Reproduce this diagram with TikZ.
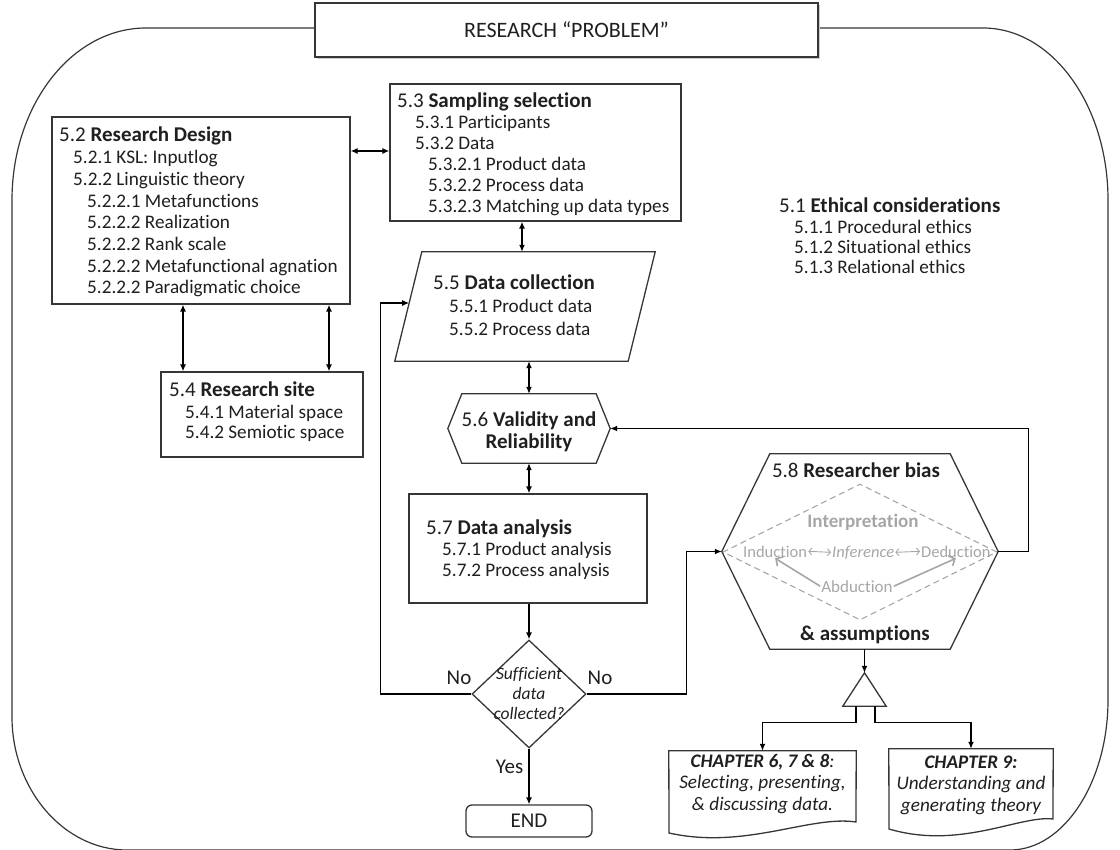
\documentclass[tikz,border=0pt]{standalone}
\usepackage{fontspec}
\setmainfont{Carlito}[Ligatures=NoCommon]
\usetikzlibrary{arrows.meta,shapes.geometric,calc}

\definecolor{ink}{HTML}{1F1F1F}
\definecolor{edge}{HTML}{363636}
\definecolor{soft}{HTML}{A6A6A6}

% numbered heading followed by indented sub-items, first baseline = box baseline
\newcommand\secblock[4]{\vtop{\lineskiplimit=-\maxdimen\lineskip=0pt
  \hbox{\fontsize{21}{21}\selectfont #1 \textbf{#2}}%
  \fontsize{19.2}{#3}\selectfont #4}}
% centred lines, first baseline = box baseline
\newcommand\ctrblock[2]{\vtop{\baselineskip=#1\lineskiplimit=-\maxdimen\lineskip=0pt
  \halign{\hfil##\hfil\cr#2\crcr}}}

\tikzset{
  box/.style={draw=edge, line width=1.3pt, rectangle, inner sep=0pt, fill=white, text=ink},
  bbox/.style={rectangle, inner sep=0pt},
  outline/.style={draw=edge, line width=1.3pt, line join=miter},
  frame/.style={draw=edge, line width=1.2pt},
  txt/.style={inner sep=0pt, text=ink},
  arr/.style={draw=black, line width=1.3pt, -{Latex[length=7pt,width=6pt]}},
  darr/.style={draw=black, line width=1.3pt, {Latex[length=7pt,width=6pt]}-{Latex[length=7pt,width=6pt]}},
  softarr/.style={draw=soft, line width=1.6pt, -{Straight Barb[length=5pt,width=11pt]}},
  softdbl/.style={draw=soft, line width=0.9pt, {Straight Barb[length=3pt,width=7pt]}-{Straight Barb[length=3pt,width=7pt]}},
  big/.style={font=\fontsize{21}{24}\selectfont},
}

\begin{document}
\begin{tikzpicture}[x=1pt,y=-1pt]
\useasboundingbox (0,0) rectangle (1120,850);

% rounded outer frame around the whole study
\draw[frame] (315,28) -- (146,28) .. controls (72,28) and (12,105) .. (12,200)
  -- (12,717) .. controls (12,789) and (63.5,850) .. (127,850)
  -- (1010,850) .. controls (1064,850) and (1108,781.7) .. (1108,700)
  -- (1108,200) .. controls (1108,105) and (1052,28) .. (983,28) -- (818,28);

% title
\fill[gray!40] (317,5) rectangle (820,59);
\node[box, minimum width=503pt, minimum height=54pt, font=\fontsize{22}{26}\selectfont] (title) at (566.5,30) {RESEARCH “PROBLEM”};

% 5.2 research design
\node[box, minimum width=298pt, minimum height=187pt] (design) at (201,210.5) {};
\node[txt, anchor=base west] (design-t) at (59,142) {\secblock{5.2}{Research Design}{21.67pt}{%
  \hbox{\hspace*{14pt}5.2.1 KSL: Inputlog}
  \hbox{\hspace*{14pt}5.2.2 Linguistic theory}
  \hbox{\hspace*{28pt}5.2.2.1 Metafunctions}
  \hbox{\hspace*{28pt}5.2.2.2 Realization}
  \hbox{\hspace*{28pt}5.2.2.2 Rank scale}
  \hbox{\hspace*{28pt}5.2.2.2 Metafunctional agnation}
  \hbox{\hspace*{28pt}5.2.2.2 Paradigmatic choice}}};

% 5.3 sampling selection
\node[box, minimum width=291pt, minimum height=137pt] (samp) at (535.5,152.5) {};
\node[txt, anchor=base west] (samp-t) at (397,108) {\secblock{5.3}{Sampling selection}{21pt}{%
  \hbox{\hspace*{18pt}5.3.1 Participants}
  \hbox{\hspace*{18pt}5.3.2 Data}
  \hbox{\hspace*{31pt}5.3.2.1 Product data}
  \hbox{\hspace*{31pt}5.3.2.2 Process data}
  \hbox{\hspace*{31pt}5.3.2.3 Matching up data types}}};

% 5.4 research site
\node[box, minimum width=202pt, minimum height=85pt] (site) at (262,414.5) {};
\node[txt, anchor=base west] (site-t) at (169,397) {\secblock{5.4}{Research site}{21pt}{%
  \hbox{\hspace*{16pt}5.4.1 Material space}
  \hbox{\hspace*{16pt}5.4.2 Semiotic space}}};

% 5.1 ethical considerations
\node[txt, anchor=base west] (eth-t) at (779,213) {\secblock{5.1}{Ethical considerations}{20.3pt}{%
  \hbox{\hspace*{15pt}5.1.1 Procedural ethics}
  \hbox{\hspace*{15pt}5.1.2 Situational ethics}
  \hbox{\hspace*{15pt}5.1.3 Relational ethics}}};

% 5.5 data collection (parallelogram)
\node[bbox, minimum width=260pt, minimum height=109pt] (dc) at (525,306.5) {};
\draw[outline] (dc.south west) -- ([xshift=27pt]dc.north west) -- (dc.north east) -- ([xshift=-27pt]dc.south east) -- cycle;
\coordinate (dcL) at ($(dc.south west)!0.532!([xshift=27pt]dc.north west)$);
\node[txt, anchor=base west] (dc-t) at (433,290) {\secblock{5.5}{Data collection}{23pt}{%
  \hbox{\hspace*{16pt}5.5.1 Product data}
  \hbox{\hspace*{16pt}5.5.2 Process data}}};

% 5.6 validity and reliability (hexagon)
\node[bbox, minimum width=162pt, minimum height=69pt] (vr) at (529,428.5) {};
\draw[outline] (vr.west) -- ([xshift=14pt]vr.north west) -- ([xshift=-14pt]vr.north east) -- (vr.east)
  -- ([xshift=-14pt]vr.south east) -- ([xshift=14pt]vr.south west) -- cycle;
\node[txt, anchor=base, font=\fontsize{21}{22}\selectfont] (vr-t) at (529,427) {\ctrblock{22pt}{5.6 \textbf{Validity and}\cr\textbf{Reliability}}};

% 5.7 data analysis
\node[box, minimum width=238pt, minimum height=109pt] (da) at (528,548.5) {};
\node[txt, anchor=base west] (da-t) at (426,534) {\secblock{5.7}{Data analysis}{21pt}{%
  \hbox{\hspace*{16pt}5.7.1 Product analysis}
  \hbox{\hspace*{16pt}5.7.2 Process analysis}}};

% decision
\node[draw=edge, line width=1.3pt, diamond, minimum width=114pt, minimum height=108pt, inner sep=0pt] (q) at (529,694) {};
\node[txt, anchor=base, font=\itshape\fontsize{17.5}{20}\selectfont] (q-t) at (529,679) {\ctrblock{20pt}{Sufficient\cr data\cr collected?}};
\node[txt, big] (no1) at (459,678) {No};
\node[txt, big] (no2) at (600,678) {No};
\node[txt, big] (yes) at (509.5,767) {Yes};

% end
\node[box, rounded corners=6pt, minimum width=126pt, minimum height=32pt, big] (end) at (529,821) {END};

% 5.8 researcher bias (hexagon) with the inference lens
\node[bbox, minimum width=276pt, minimum height=195pt] (rb) at (860,551.5) {};
\draw[outline] (rb.west) -- ([xshift=48pt]rb.north west) -- ([xshift=-48pt]rb.north east) -- (rb.east)
  -- ([xshift=-48pt]rb.south east) -- ([xshift=48pt]rb.south west) -- cycle;
\node[draw=soft, dash pattern=on 6pt off 4pt, line width=1.1pt, diamond, minimum width=274pt, minimum height=136pt, inner sep=0pt] (lens) at (860,552) {};
\node[txt, anchor=base, big] (rb-t) at (856,477) {5.8 \textbf{Researcher bias}};
\node[txt, anchor=base, big] (rb-b) at (865,640) {\textbf{\& assumptions}};
\node[txt, anchor=base, text=soft, font=\bfseries\fontsize{19}{22}\selectfont] (interp) at (863,527) {Interpretation};
\node[txt, anchor=base west, text=soft, inner sep=1pt, font=\fontsize{16.5}{20}\selectfont] (ind) at (742,557) {Induction};
\node[txt, anchor=base west, text=soft, inner sep=1pt, font=\itshape\fontsize{16.5}{20}\selectfont] (inf) at (831,557) {Inference};
\node[txt, anchor=base west, text=soft, inner sep=1pt, font=\fontsize{16.5}{20}\selectfont] (ded) at (920,557) {Deduction};
\node[txt, anchor=base, text=soft, inner sep=1pt, font=\fontsize{17}{20}\selectfont] (abd) at (857,592) {Abduction};
\draw[softdbl] (ind.east) -- (inf.west);
\draw[softdbl] (inf.east) -- (ded.west);
\draw[softarr] (abd.west) -- (ind.south);
\draw[softarr] (abd.east) -- (ded.south);

% splitting triangle
\node[bbox, minimum width=43pt, minimum height=33pt] (tri) at (864.5,689.5) {};
\draw[outline, fill=white] (tri.south west) -- (tri.north) -- (tri.south east) -- cycle;

% chapter documents
\node[bbox, minimum width=187pt, minimum height=87pt] (ch1) at (762.5,794.5) {};
\draw[outline] (ch1.north west) -- (ch1.north east) -- (856,822) .. controls (810,815) and (745,850) .. (669,833) -- cycle;
\node[txt, anchor=base, font=\itshape\fontsize{19.2}{22}\selectfont] (ch1-t) at (762.5,767) {\ctrblock{21.5pt}{\textbf{CHAPTER 6, 7 \& 8}:\cr Selecting, presenting,\cr \& discussing data.}};
\node[bbox, minimum width=164pt, minimum height=86pt] (ch2) at (971,792) {};
\draw[outline] (ch2.north west) -- (ch2.north east) -- (1053,819) .. controls (1020,815) and (960,850) .. (889,829) -- cycle;
\node[txt, anchor=base, font=\itshape\fontsize{19.2}{22}\selectfont] (ch2-t) at (971,768) {\ctrblock{21.5pt}{\textbf{CHAPTER 9:}\cr Understanding and\cr generating theory}};

% connectors
\draw[darr] (design.east |- 0,151) -- (samp.west |- 0,151);
\draw[darr] (design.south -| 183,0) -- (site.north -| 183,0);
\draw[darr] (design.south -| 329,0) -- (site.north -| 329,0);
\draw[darr] (samp.south -| 522,0) -- (dc.north -| 522,0);
\draw[darr] (dc.south -| vr.north) -- (vr.north);
\draw[darr] (vr.south) -- (da.north -| vr.south);
\draw[arr] (da.south -| q.north) -- (q.north);
\draw[arr] (q.south) -- (end.north);
\draw[arr] (q.west) -- ++(-91,0) |- (dcL);
\draw[arr] (q.east) -- ++(100,0) |- (rb.west);
\draw[arr] (rb.east) -- ++(30,0) |- (vr.east);
\draw[arr] (rb.south -| tri.north) -- (tri.north);
\draw[arr] (tri.south -| 856,0) -- ++(0,16) -| (ch1.north);
\draw[arr] (tri.south -| 875,0) -- ++(0,16) -| (ch2.north);
\end{tikzpicture}
\end{document}
